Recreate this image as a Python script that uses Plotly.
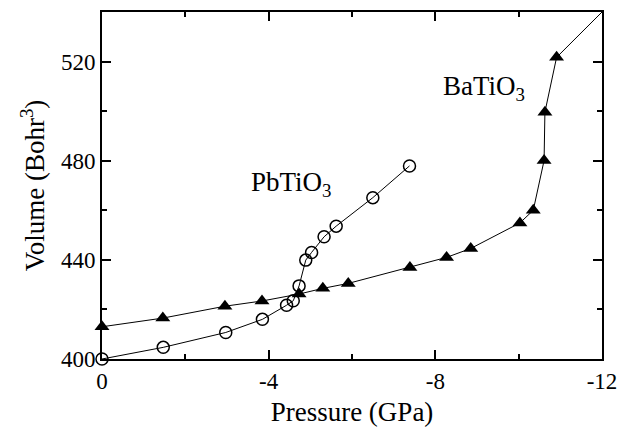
import plotly.graph_objects as go

# BaTiO3 (triangles)
ba_p = [0, -1.46, -2.95, -3.84, -4.73, -5.3, -5.91, -7.39, -8.27, -8.85, -10.03, -10.35, -10.61, -10.63, -10.91]
ba_v = [413, 416.5, 421.3, 423.4, 426.2, 428.5, 430.5, 436.9, 441.0, 444.6, 454.9, 460.0, 480.1, 499.6, 521.7]
# continuation line beyond last computed point
ba_ext_p = [-10.91, -12.0]
ba_ext_v = [521.7, 540.0]

# PbTiO3 (open circles)
pb_p = [0, -1.47, -2.97, -3.85, -4.43, -4.59, -4.73, -4.89, -5.03, -5.33, -5.62, -6.5, -7.38]
pb_v = [400, 404.7, 410.7, 416.0, 421.7, 423.5, 429.5, 439.9, 443.0, 449.3, 453.6, 465.1, 477.9]

x_ticks = [0, -4, -8, -12]
y_ticks = [400, 440, 480, 520]

font_family = "Liberation Serif, Times New Roman, serif"

fig = go.Figure()
fig.add_trace(go.Scatter(x=ba_ext_p, y=ba_ext_v, mode="lines",
                         line=dict(color="black", width=1), showlegend=False))
fig.add_trace(go.Scatter(x=ba_p, y=ba_v, mode="lines+markers",
                         line=dict(color="black", width=1),
                         marker=dict(symbol="triangle-up", size=13, color="black"),
                         showlegend=False, cliponaxis=False))
fig.add_trace(go.Scatter(x=pb_p, y=pb_v, mode="lines+markers",
                         line=dict(color="black", width=1),
                         marker=dict(symbol="circle-open", size=12, color="black", line=dict(width=1.5)),
                         showlegend=False, cliponaxis=False))

fig.add_annotation(x=-4.55, y=470.5, text="PbTiO<sub>3</sub>", showarrow=False,
                   font=dict(family=font_family, size=27, color="black"))
fig.add_annotation(x=-9.17, y=509.5, text="BaTiO<sub>3</sub>", showarrow=False,
                   font=dict(family=font_family, size=27, color="black"))

axis_common = dict(showgrid=False, zeroline=False, showline=True, linecolor="black", linewidth=2,
                   mirror="allticks", ticks="inside", ticklen=9, tickwidth=1.5, tickcolor="black",
                   automargin=False,
                   tickfont=dict(family=font_family, size=23, color="black"))

fig.update_xaxes(range=[0, -12], tickvals=x_ticks, ticktext=[str(t) for t in x_ticks],
                 minor=dict(dtick=2, tick0=0, ticks="inside", ticklen=5, tickwidth=1.5, tickcolor="black"),
                 title=dict(text="Pressure (GPa)", font=dict(family=font_family, size=27, color="black"), standoff=10),
                 **axis_common)
fig.update_yaxes(range=[400, 540], tickvals=y_ticks,
                 minor=dict(dtick=20, tick0=400, ticks="inside", ticklen=5, tickwidth=1.5, tickcolor="black"),
                 title=dict(text="Volume (Bohr<sup>3</sup>)", font=dict(family=font_family, size=27, color="black"), standoff=8),
                 **axis_common)

fig.update_layout(width=619, height=427, margin=dict(l=102, r=17, t=12, b=68),
                  plot_bgcolor="white", paper_bgcolor="white")

fig.write_html("out.html")
